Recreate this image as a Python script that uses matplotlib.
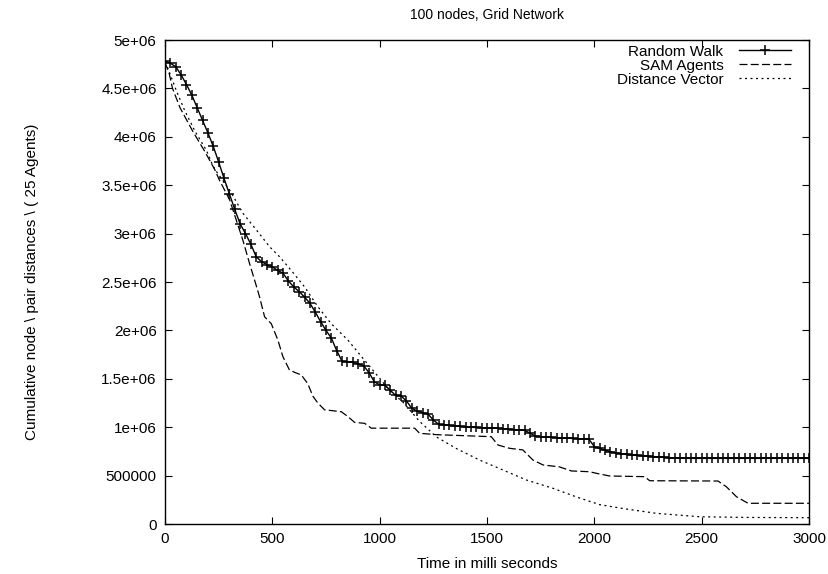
import numpy as np
import matplotlib
matplotlib.use('Agg')
import matplotlib.pyplot as plt

plt.rcParams['font.family'] = ['Liberation Sans', 'DejaVu Sans']

# Random Walk, one value every 25 ms (0 .. 3000), in units of 1e6
rw_t = np.arange(0, 3001, 25)
rw_y = [4.78, 4.76, 4.724, 4.64, 4.54, 4.43, 4.30, 4.17, 4.04, 3.90,
        3.74, 3.57, 3.41, 3.25, 3.10, 3.00, 2.89, 2.76, 2.71, 2.68,
        2.655, 2.62, 2.59, 2.51, 2.45, 2.40, 2.345, 2.28, 2.19, 2.09,
        2.00, 1.92, 1.79, 1.68, 1.675, 1.67, 1.655, 1.635, 1.565, 1.47,
        1.437, 1.432, 1.38, 1.328, 1.322, 1.27, 1.195, 1.167, 1.15, 1.135,
        1.075, 1.028, 1.023, 1.018, 1.013, 1.008, 1.003, 0.999, 0.997, 0.995,
        0.992, 0.99, 0.988, 0.985, 0.98, 0.976, 0.972, 0.967, 0.94, 0.907,
        0.903, 0.90, 0.895, 0.892, 0.889, 0.886, 0.884, 0.881, 0.878, 0.875,
        0.80, 0.78, 0.762, 0.745, 0.735, 0.726, 0.718, 0.711, 0.708, 0.704,
        0.70, 0.697, 0.693, 0.69, 0.686, 0.683, 0.68, 0.678, 0.678, 0.678,
        0.678, 0.678, 0.678, 0.678, 0.678, 0.678, 0.678, 0.678, 0.678, 0.678,
        0.678, 0.678, 0.678, 0.678, 0.678, 0.678, 0.678, 0.678, 0.678, 0.678,
        0.678]

# SAM Agents
sam_t = [0, 20, 35, 70, 131, 185, 232, 254, 301, 332, 363, 394, 420, 440,
         464, 495, 526, 549, 580, 611, 635, 665, 689, 712, 743, 821, 852,
         883, 930, 961, 1163, 1186, 1264, 1520, 1551, 1605, 1667, 1714, 1761,
         1838, 1893, 1978, 2009, 2071, 2234, 2258, 2576, 2615, 2662, 2716, 3000]
sam_y = [4.77, 4.65, 4.50, 4.30, 4.05, 3.85, 3.66, 3.55, 3.35, 3.14, 2.93,
         2.69, 2.50, 2.35, 2.14, 2.07, 1.90, 1.73, 1.59, 1.56, 1.54, 1.45,
         1.32, 1.25, 1.18, 1.16, 1.11, 1.05, 1.04, 0.99, 0.99, 0.937, 0.923,
         0.902, 0.816, 0.782, 0.765, 0.661, 0.61, 0.59, 0.548, 0.54, 0.524,
         0.496, 0.489, 0.447, 0.444, 0.385, 0.282, 0.214, 0.214]

# Distance Vector
dv_t = [0, 15, 54, 92, 139, 193, 223, 240, 301, 363, 425, 487, 534, 588,
        650, 712, 774, 852, 930, 1000, 1046, 1108, 1186, 1264, 1357, 1466,
        1574, 1683, 1807, 1916, 2025, 2133, 2289, 2491, 2700, 3000]
dv_y = [4.77, 4.70, 4.47, 4.27, 4.06, 3.86, 3.70, 3.64, 3.45, 3.21, 3.04,
        2.865, 2.76, 2.62, 2.45, 2.245, 2.07, 1.90, 1.69, 1.505, 1.38, 1.26,
        1.06, 0.90, 0.78, 0.66, 0.558, 0.455, 0.369, 0.28, 0.20, 0.16, 0.11,
        0.075, 0.068, 0.065]

yticks = [0, 500000, 1e6, 1.5e6, 2e6, 2.5e6, 3e6, 3.5e6, 4e6, 4.5e6, 5e6]
ytick_labels = ['0', '500000', '1e+06', '1.5e+06', '2e+06', '2.5e+06',
                '3e+06', '3.5e+06', '4e+06', '4.5e+06', '5e+06']
xticks = [0, 500, 1000, 1500, 2000, 2500, 3000]

fig = plt.figure(figsize=(8.29, 5.74), dpi=100)
ax = fig.add_axes([165/829, 50/574, 644/829, 484/574])

ax.plot(rw_t, np.array(rw_y)*1e6, 'k-', marker='+', markersize=6.5,
        markeredgewidth=1.1, linewidth=1.0, label='Random Walk')
ax.plot(sam_t, np.array(sam_y)*1e6, color='k', linewidth=0.9,
        dashes=(6.4, 2.6), label='SAM Agents')
ax.plot(dv_t, np.array(dv_y)*1e6, color='k', linewidth=0.9,
        dashes=(1.6, 2.8), label='Distance Vector')

ax.set_xlim(0, 3000)
ax.set_ylim(0, 5e6)
ax.set_xticks(xticks)
ax.set_yticks(yticks)
ax.set_yticklabels(ytick_labels)
ax.tick_params(direction='in', length=5, width=0.8, top=True, right=True,
               labelsize=11, pad=6)
for s in ax.spines.values():
    s.set_linewidth(1.0)

ax.set_xlabel('Time in milli seconds', fontsize=11, labelpad=8)
ax.set_ylabel('Cumulative node \\ pair distances \\ ( 25 Agents)', fontsize=11,
              labelpad=45)
ax.set_title('100 nodes, Grid Network', fontsize=10, pad=15)

leg = ax.legend(loc='upper right', bbox_to_anchor=(0.981, 1.003),
                frameon=False, markerfirst=False, fontsize=11,
                handlelength=3.4, handletextpad=1.0, labelspacing=0.0,
                numpoints=1, borderaxespad=0)

plt.savefig('out.png', dpi=100)
